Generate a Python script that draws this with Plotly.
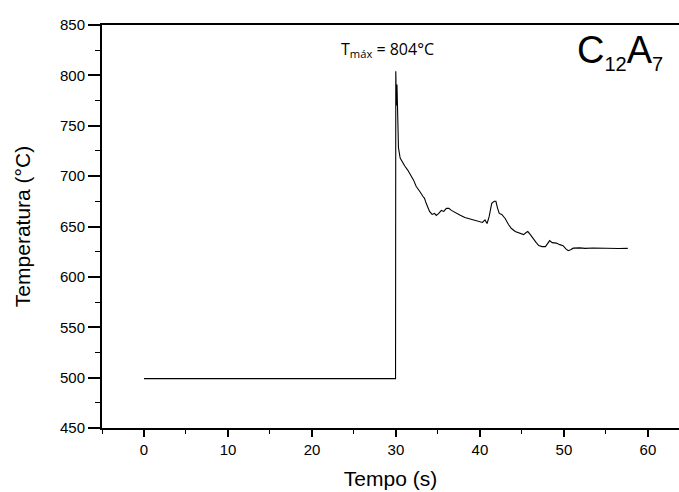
import plotly.graph_objects as go

# Data
tempo = [0, 29.95, 29.98, 30.05, 30.12, 30.2, 30.3, 30.5, 30.8, 31.05, 31.4, 31.85,
         32.1, 32.4, 32.6, 32.9, 33.2, 33.4, 33.6, 33.8, 34.0, 34.3, 34.6, 34.8,
         35.1, 35.4, 35.7, 36.0, 36.3, 36.6, 37.0, 37.6, 38.2, 38.8, 39.4, 40.0,
         40.3, 40.6, 40.85, 41.1, 41.4, 41.7, 41.9, 42.1, 42.3, 42.6, 43.0, 43.4,
         43.75, 44.2, 44.7, 45.2, 45.5, 45.7, 46.0, 46.3, 46.7, 47.0, 47.4, 47.8,
         48.1, 48.3, 48.6, 49.1, 49.5, 49.9, 50.2, 50.5, 50.8, 51.1, 51.9, 52.5,
         53.5, 54.5, 55.5, 56.5, 57.6]
temperatura = [499, 499, 804, 770, 791, 750, 728, 718, 713, 710, 706, 700,
               696, 690, 688, 684, 680, 678, 673, 668, 665, 662, 663, 661,
               663, 666, 665, 668, 668, 666, 664, 661.5, 659, 657.6, 656, 655,
               654, 656.6, 653, 660, 673, 675, 675, 668, 663, 662, 658, 652,
               648, 645, 643.5, 642, 644, 645, 642, 638, 634, 631, 630, 630,
               633, 636, 634, 633.5, 632, 631, 628, 626, 627, 628.5, 628.8, 628.3,
               628.6, 628.2, 628.4, 628.1, 628.3]
t_max = 804
x_ticks = [0, 10, 20, 30, 40, 50, 60]
y_ticks = [450, 500, 550, 600, 650, 700, 750, 800, 850]

fig = go.Figure()
fig.add_trace(go.Scatter(x=tempo, y=temperatura, mode="lines",
                         line=dict(color="black", width=1.1), showlegend=False))

tick_font = dict(family="Liberation Sans, Arial", size=15, color="black")
fig.update_xaxes(range=[-5, 63.7], tickvals=x_ticks, ticks="outside", ticklen=7,
                 tickwidth=1.5, tickcolor="black",
                 minor=dict(dtick=5, tick0=0, ticks="outside", ticklen=4, tickwidth=1.2,
                            tickcolor="black", showgrid=False),
                 showline=True, linecolor="black", linewidth=1.5, mirror=True,
                 showgrid=False, zeroline=False, tickfont=tick_font, automargin=False,
                 title=dict(text="Tempo (s)", standoff=15,
                            font=dict(family="Liberation Sans, Arial", size=21, color="black")))
fig.update_yaxes(range=[450, 850], tickvals=y_ticks, ticks="outside", ticklen=12,
                 tickwidth=1.5, tickcolor="black",
                 minor=dict(dtick=25, tick0=450, ticks="outside", ticklen=5, tickwidth=1.2,
                            tickcolor="black", showgrid=False),
                 showline=True, linecolor="black", linewidth=2, mirror=False,
                 showgrid=False, zeroline=False, tickfont=tick_font, automargin=False,
                 title=dict(text="Temperatura (°C)", standoff=24,
                            font=dict(family="Liberation Sans, Arial", size=21, color="black")))

fig.add_annotation(x=29, y=812, xref="x", yref="y", xanchor="center", yanchor="bottom",
                   text=f"T<sub>máx</sub> = {t_max}°C", showarrow=False,
                   font=dict(family="Open Sans", size=16, color="black"))
fig.add_annotation(x=0.82, y=0.995, xref="paper", yref="paper", xanchor="left", yanchor="top",
                   text="C<sub><span style='font-size:20px'>12</span></sub>A<sub><span style='font-size:20px'>7</span></sub>",
                   showarrow=False,
                   font=dict(family="Liberation Sans, Arial", size=38, color="black"))

fig.update_layout(width=679, height=492, plot_bgcolor="white", paper_bgcolor="white",
                  margin=dict(l=102, r=0, t=25, b=64))
# remove the page's default body margin and scrollbars so the figure fills the window
fig.write_html("out.html", config={"displayModeBar": False},
               post_script="document.body.style.margin='0';document.body.style.overflow='hidden';")
